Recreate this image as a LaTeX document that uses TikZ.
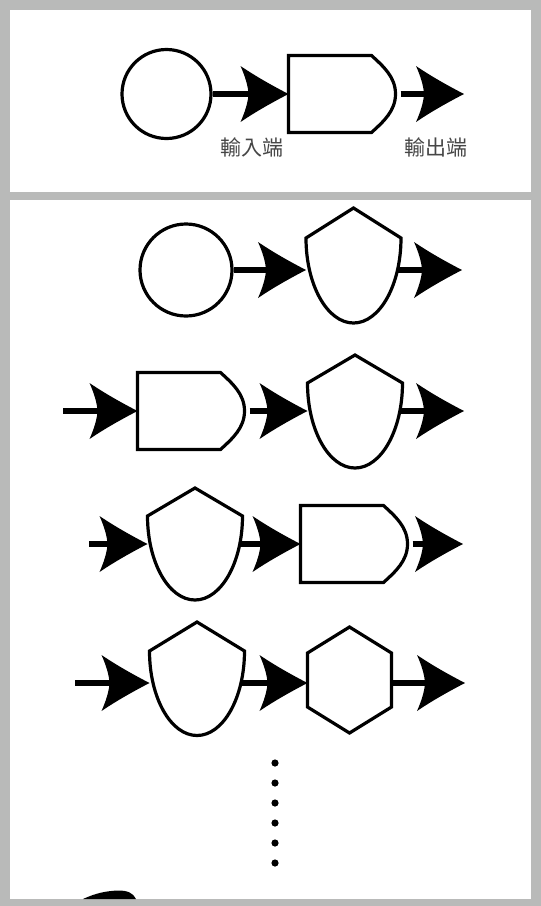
\documentclass[tikz,border=0pt]{standalone}
\usepackage{fontspec}
\newfontfamily\cjk{Noto Sans CJK TC}
\usetikzlibrary{arrows.meta,calc}
\definecolor{framegray}{RGB}{185,186,185}
\definecolor{labelgray}{RGB}{70,70,70}
\pgfdeclarearrow{
  name = Wing,
  setup code = {
    \pgfarrowssettipend{0pt}
    \pgfarrowssetlineend{-30pt}
    \pgfarrowssetvisualbackend{-40pt}
    \pgfarrowssetbackend{-48pt}
    \pgfarrowshullpoint{0pt}{0pt}
    \pgfarrowsupperhullpoint{-48pt}{28pt}
  },
  drawing code = {
    \pgfpathmoveto{\pgfqpoint{0pt}{0pt}}
    \pgfpathcurveto{\pgfqpoint{-16pt}{8.3pt}}{\pgfqpoint{-32pt}{17.2pt}}{\pgfqpoint{-48pt}{28pt}}
    \pgfpathcurveto{\pgfqpoint{-44pt}{19pt}}{\pgfqpoint{-40.5pt}{9pt}}{\pgfqpoint{-40pt}{0pt}}
    \pgfpathcurveto{\pgfqpoint{-40.5pt}{-9pt}}{\pgfqpoint{-44pt}{-19pt}}{\pgfqpoint{-48pt}{-28pt}}
    \pgfpathcurveto{\pgfqpoint{-32pt}{-17.2pt}}{\pgfqpoint{-16pt}{-8.3pt}}{\pgfqpoint{0pt}{0pt}}
    \pgfpathclose
    \pgfusepathqfill
  }
}
\newcommand\DOutline[1]{%
  \draw[shapeline] (#1.north west) -- ([xshift=-24pt]#1.north east)
    .. controls ([shift={(-12,11)}]#1.north east) and ([shift={(0,-17)}]#1.east) .. (#1.east)
    .. controls ([shift={(0,17)}]#1.east) and ([shift={(-12,-11)}]#1.south east) .. ([xshift=-24pt]#1.south east)
    -- (#1.south west) -- cycle;}
% shield: node, top offset, shoulder offset, bottom offset (relative to the row)
\newcommand\SOutline[4]{%
  \draw[shapeline] ([shift={(0,#3)}]#1.west) -- ([shift={(0,#2)}]#1.center) -- ([shift={(0,#3)}]#1.east)
    arc[start angle=0, end angle=180, x radius=47.5, y radius={(#4)-(#3)}] -- cycle;}
\begin{document}
\begin{tikzpicture}[x=1pt,y=-1pt,
  shapeline/.style={draw=black, line width=3.2pt, fill=white, line join=miter},
  circ/.style={circle, shapeline, inner sep=0pt},
  anchorbox/.style={rectangle, inner sep=0pt, outer sep=0pt},
  dbox/.style={anchorbox, minimum width=107, minimum height=77},
  sbox/.style={anchorbox, minimum width=95, minimum height=10},
  conn/.style={line width=6pt, -{Wing}},
  lbl/.style={font=\cjk\fontsize{21}{21}\selectfont, text=labelgray, inner sep=0pt}
]
\useasboundingbox (0,0) rectangle (541,906);
\fill[framegray] (0,0) rectangle (541,906);
\fill[white] (10,10) rectangle (531,192);
\fill[white] (10,200) rectangle (531,899);

% top panel
\node[circ, minimum size=89] (c0) at (166.5,94) {};
\node[dbox] (d0) at (342,94) {};
\coordinate (o0) at (464,94);
\node[lbl] (l0) at (252,147.5) {輸入端};
\node[lbl] (l1) at (435.5,147.5) {輸出端};

% row 1
\node[circ, minimum size=92] (c1) at (186,270) {};
\node[sbox] (s1) at (353.5,270) {};
\coordinate (o1) at (462,270);

% row 2
\coordinate (i2) at (63,411);
\node[dbox] (d2) at (191,411) {};
\node[sbox] (s2) at (355,411) {};
\coordinate (o2) at (464,411);

% row 3
\coordinate (i3) at (89,544);
\node[sbox] (s3) at (195,544) {};
\node[dbox] (d3) at (354,544) {};
\coordinate (o3) at (463,544);

% row 4
\coordinate (i4) at (75,683);
\node[sbox] (s4) at (197,683) {};
\node[anchorbox, minimum width=84, minimum height=10] (h4) at (349.5,683) {};
\coordinate (o4) at (465,683);

% connectors
\draw[conn] (c0.east) -- (d0.west);
\draw[conn] ([xshift=5pt]d0.east) -- (o0);
\draw[conn] (c1.east) -- (s1.west);
\draw[conn] (s1.center) -- (o1);
\draw[conn] (i2) -- (d2.west);
\draw[conn] ([xshift=5pt]d2.east) -- (s2.west);
\draw[conn] (s2.center) -- (o2);
\draw[conn] (i3) -- (s3.west);
\draw[conn] (s3.center) -- (d3.west);
\draw[conn] ([xshift=5pt]d3.east) -- (o3);
\draw[conn] (i4) -- (s4.west);
\draw[conn] (s4.center) -- (h4.west);
\draw[conn] (h4.east) -- (o4);

% outlines
\DOutline{d0}
\DOutline{d2}
\DOutline{d3}
\SOutline{s1}{-62}{-32}{53}
\SOutline{s2}{-56}{-28}{57}
\SOutline{s3}{-56}{-28}{56}
\SOutline{s4}{-61}{-32}{52.5}
\draw[shapeline] ([shift={(0,-56)}]h4.center) -- ([shift={(0,-30)}]h4.east) -- ([shift={(0,24)}]h4.east)
  -- ([shift={(0,50)}]h4.center) -- ([shift={(0,24)}]h4.west) -- ([shift={(0,-30)}]h4.west) -- cycle;

% continuation dots
\foreach \yy in {763,783,803,823,843,863} \fill (275,\yy) circle[radius=3.6];

% partial dark mark at bottom left
\fill (83,899) .. controls (96,893) and (106,891) .. (118,890.5) .. controls (128,890.5) and (133,893) .. (136,899) -- cycle;
\end{tikzpicture}
\end{document}
